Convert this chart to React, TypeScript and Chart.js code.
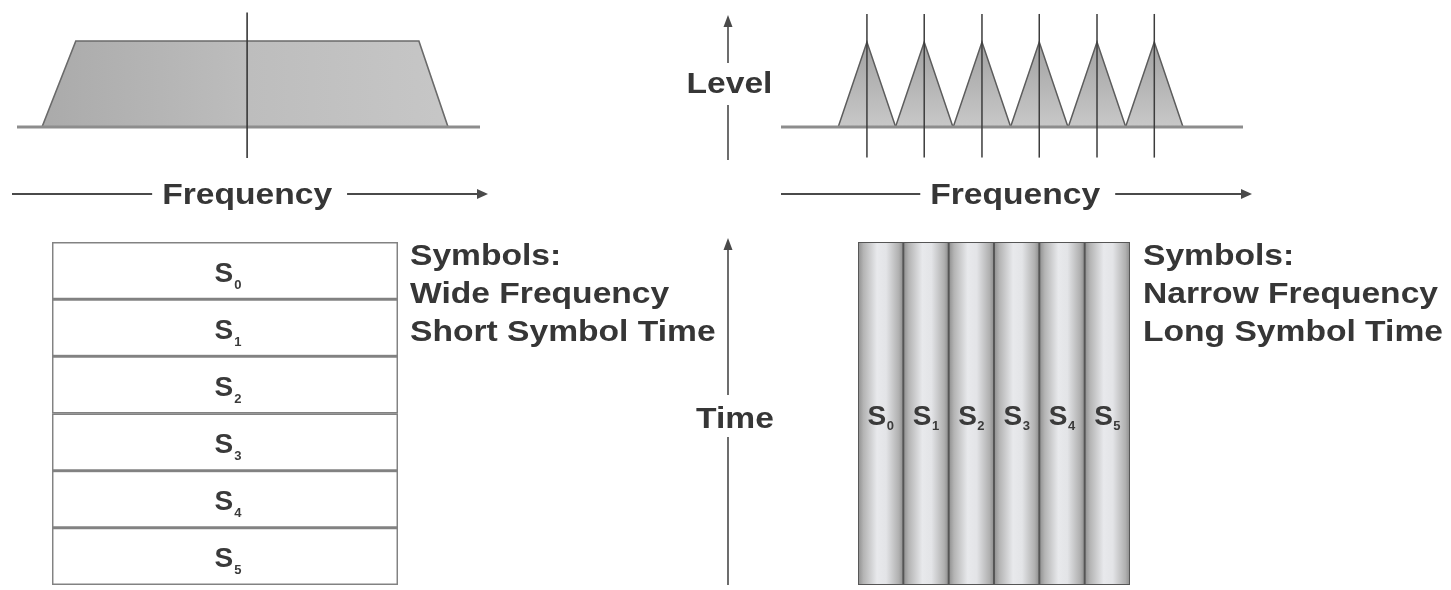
import React, { useEffect, useRef } from 'react';
import { Chart, registerables } from 'chart.js';

Chart.register(...registerables);

// ---------------- data ----------------
const symbolLabels = ['S0', 'S1', 'S2', 'S3', 'S4', 'S5'];
const symbolNames = ['S', 'S', 'S', 'S', 'S', 'S'];
const symbolIndices = ['0', '1', '2', '3', '4', '5'];

// spectrum (frequency 0..100, level 0..1)
const spectrumRange = [0, 100];
const singleCarrierFreq = [5.4, 12.7, 86.8, 93.1];
const singleCarrierLevel = [0, 1, 1, 0];
const singleCarrierCentre = [49.7];
const subcarrierCentres = [18.6, 31.0, 43.5, 55.9, 68.4, 80.8];
const subcarrierHalfBand = [6.22, 6.22, 6.22, 6.22, 6.22, 6.22];
const subcarrierPeak = [1, 1, 1, 1, 1, 1];
const carrierMarkerLevels = [-0.36, 1.33];
const frequencyTitleCentre = [49.7, 50.7];

// symbol occupation (fraction of band / fraction of time)
const wideSymbolSpan = [[0, 1], [0, 1], [0, 1], [0, 1], [0, 1], [0, 1]];
const narrowSymbolSpan = [[0, 1], [0, 1], [0, 1], [0, 1], [0, 1], [0, 1]];

const wideCaption = ['Symbols:', 'Wide Frequency', 'Short Symbol Time'];
const narrowCaption = ['Symbols:', 'Narrow Frequency', 'Long Symbol Time'];
const frequencyTitle = 'Frequency';
const levelTitle = 'Level';
const timeTitle = 'Time';

// ---------------- drawing helpers ----------------
const TEXT = '#363636';
const LINE = '#4a4a4a';
const FONT = '"Liberation Sans", Arial, Helvetica, sans-serif';
const STRETCH = 1.12;

const fin = (...v: number[]) => v.every((n) => Number.isFinite(n));

function measure(ctx: CanvasRenderingContext2D, str: string, size: number, stretch = STRETCH) {
  ctx.save();
  ctx.font = `bold ${size}px ${FONT}`;
  const w = ctx.measureText(str).width * stretch;
  ctx.restore();
  return w;
}

function drawText(ctx: CanvasRenderingContext2D, str: string, x: number, y: number, size: number, align: 'left' | 'center' = 'left', stretch = STRETCH, color = TEXT) {
  const w = measure(ctx, str, size, stretch);
  const sx = align === 'center' ? x - w / 2 : x;
  ctx.save();
  ctx.font = `bold ${size}px ${FONT}`;
  ctx.fillStyle = color;
  ctx.textBaseline = 'alphabetic';
  ctx.textAlign = 'left';
  ctx.translate(sx, y);
  ctx.scale(stretch, 1);
  ctx.fillText(str, 0, 0);
  ctx.restore();
  return w;
}

function arrowHead(ctx: CanvasRenderingContext2D, tx: number, ty: number, dx: number, dy: number, len: number, half: number) {
  ctx.beginPath();
  ctx.moveTo(tx, ty);
  ctx.lineTo(tx - dx * len - dy * half, ty - dy * len + dx * half);
  ctx.lineTo(tx - dx * len + dy * half, ty - dy * len - dx * half);
  ctx.closePath();
  ctx.fill();
}

function frequencyArrow(ctx: CanvasRenderingContext2D, startX: number, tipX: number, y: number, centreX: number) {
  const w = measure(ctx, frequencyTitle, 30);
  const tl = centreX - w / 2;
  const tr = centreX + w / 2;
  ctx.save();
  ctx.strokeStyle = LINE;
  ctx.fillStyle = LINE;
  ctx.lineWidth = 1.8;
  ctx.beginPath();
  ctx.moveTo(startX, y);
  ctx.lineTo(tl - 10, y);
  ctx.moveTo(tr + 15, y);
  ctx.lineTo(tipX - 6, y);
  ctx.stroke();
  arrowHead(ctx, tipX, y, 1, 0, 11, 5);
  ctx.restore();
  drawText(ctx, frequencyTitle, centreX, y + 10, 30, 'center');
}

function verticalArrow(ctx: CanvasRenderingContext2D, x: number, tipY: number, gapTop: number, gapBottom: number, bottomY: number) {
  ctx.save();
  ctx.strokeStyle = LINE;
  ctx.fillStyle = LINE;
  ctx.lineWidth = 1.6;
  ctx.beginPath();
  ctx.moveTo(x, tipY + 6);
  ctx.lineTo(x, gapTop);
  ctx.moveTo(x, gapBottom);
  ctx.lineTo(x, bottomY);
  ctx.stroke();
  arrowHead(ctx, x, tipY, 0, -1, 12, 4.5);
  ctx.restore();
}

function drawSymbol(ctx: CanvasRenderingContext2D, i: number, cx: number, cy: number, size: number, subSize: number, gap: number, baseOff: number, subOff: number) {
  const wS = measure(ctx, symbolNames[i], size, 1);
  const wSub = measure(ctx, symbolIndices[i], subSize, 1);
  const start = cx - (wS + gap + wSub) / 2;
  drawText(ctx, symbolNames[i], start, cy + baseOff, size, 'left', 1, '#3a3a3a');
  drawText(ctx, symbolIndices[i], start + wS + gap, cy + subOff, subSize, 'left', 1, '#3a3a3a');
}

function drawCaption(ctx: CanvasRenderingContext2D, lines: string[], x: number, top: number) {
  const offs = [23, 61, 99];
  lines.forEach((l, i) => drawText(ctx, l, x, top + offs[i], 30));
}

const baseOptions = (padding: any) => ({
  responsive: false,
  animation: false,
  events: [],
  layout: { padding },
  plugins: { legend: { display: false }, tooltip: { enabled: false }, title: { display: false } },
});

function horizontalGradient(c: any, stops: [number, string][], fallback: string) {
  const a = c.chart.chartArea;
  if (!a || !fin(a.left, a.right) || a.right <= a.left) return fallback;
  const g = c.chart.ctx.createLinearGradient(a.left, 0, a.right, 0);
  stops.forEach(([o, col]) => g.addColorStop(o, col));
  return g;
}

function verticalGradient(c: any, stops: [number, string][], fallback: string) {
  const a = c.chart.chartArea;
  if (!a || !fin(a.top, a.bottom) || a.bottom <= a.top) return fallback;
  const g = c.chart.ctx.createLinearGradient(0, a.top, 0, a.bottom);
  stops.forEach(([o, col]) => g.addColorStop(o, col));
  return g;
}

// ---------------- chart builders ----------------
function buildSingleSpectrum(): any {
  return {
    type: 'line',
    data: {
      datasets: [
        {
          data: carrierMarkerLevels.map((y) => ({ x: singleCarrierCentre[0], y })),
          borderColor: '#383838', borderWidth: 1.6, pointRadius: 0, fill: false, clip: false,
        },
        {
          data: spectrumRange.map((x) => ({ x, y: 0 })),
          borderColor: '#8d8d8d', borderWidth: 3, pointRadius: 0, fill: false, clip: false,
        },
        {
          data: singleCarrierFreq.map((x, i) => ({ x, y: singleCarrierLevel[i] })),
          borderColor: '#6a6a6a', borderWidth: 1.6, pointRadius: 0, fill: 'origin', clip: false, tension: 0,
          backgroundColor: (c: any) => horizontalGradient(c, [[0, '#a8a8a8'], [0.5, '#bdbdbd'], [1, '#c8c8c8']], '#b8b8b8'),
        },
      ],
    },
    options: {
      ...baseOptions({ left: 17, right: 40, top: 41, bottom: 93 }),
      scales: {
        x: { type: 'linear', min: 0, max: 100, display: false },
        y: { type: 'linear', min: 0, max: 1, display: false },
      },
    },
    plugins: [
      {
        id: 'freqAxisL',
        afterDraw(chart: any) {
          const a = chart.chartArea;
          frequencyArrow(chart.ctx, a.left - 5, a.right + 8, a.bottom + 67, chart.scales.x.getPixelForValue(frequencyTitleCentre[0]));
        },
      },
    ],
  };
}

function buildMultiSpectrum(): any {
  const markers = subcarrierCentres.map((c) => ({
    data: carrierMarkerLevels.map((y) => ({ x: c, y })),
    borderColor: '#3c3c3c', borderWidth: 1.5, pointRadius: 0, fill: false, clip: false,
  }));
  const triangles = subcarrierCentres.map((c, i) => ({
    data: [
      { x: c - subcarrierHalfBand[i], y: 0 },
      { x: c, y: subcarrierPeak[i] },
      { x: c + subcarrierHalfBand[i], y: 0 },
    ],
    borderColor: '#5c5c5c', borderWidth: 1.5, pointRadius: 0, fill: 'origin', clip: false, tension: 0,
    backgroundColor: (ctx: any) => verticalGradient(ctx, [[0, '#a2a2a2'], [1, '#c8c8c8']], '#b8b8b8'),
  }));
  return {
    type: 'line',
    data: {
      datasets: [
        ...markers,
        { data: spectrumRange.map((x) => ({ x, y: 0 })), borderColor: '#8d8d8d', borderWidth: 3, pointRadius: 0, fill: false, clip: false },
        ...triangles,
      ],
    },
    options: {
      ...baseOptions({ left: 101, right: 37, top: 42, bottom: 93 }),
      scales: {
        x: { type: 'linear', min: 0, max: 100, display: false },
        y: { type: 'linear', min: 0, max: 1, display: false },
      },
    },
    plugins: [
      {
        id: 'freqAxisR',
        afterDraw(chart: any) {
          const a = chart.chartArea;
          const ctx = chart.ctx;
          frequencyArrow(ctx, a.left, a.right + 9, a.bottom + 67, chart.scales.x.getPixelForValue(frequencyTitleCentre[1]));
          const x = a.left - 53;
          verticalArrow(ctx, x, a.bottom - 112, a.bottom - 64, a.bottom - 22, a.bottom + 33);
          drawText(ctx, levelTitle, x + 1.5, a.bottom - 34, 30, 'center');
        },
      },
    ],
  };
}

function buildWideSymbols(): any {
  return {
    type: 'bar',
    data: {
      labels: symbolLabels,
      datasets: [
        {
          data: wideSymbolSpan,
          backgroundColor: '#ffffff', borderColor: '#828282', borderWidth: 1.8, borderSkipped: false,
          barPercentage: 1, categoryPercentage: 1,
        },
      ],
    },
    options: {
      ...baseOptions({ left: 52, right: 322, top: 22, bottom: 5 }),
      indexAxis: 'y',
      scales: {
        x: { type: 'linear', min: 0, max: 1, display: false },
        y: { display: false },
      },
    },
    plugins: [
      {
        id: 'wideLabels',
        afterDatasetsDraw(chart: any) {
          const ctx = chart.ctx;
          const a = chart.chartArea;
          chart.getDatasetMeta(0).data.forEach((el: any, i: number) => {
            const p = el.getCenterPoint();
            drawSymbol(ctx, i, p.x + 3, p.y, 28, 13, 1, 11, 18);
          });
          drawCaption(ctx, wideCaption, a.right + 12, a.top);
        },
      },
    ],
  };
}

function buildNarrowSymbols(): any {
  return {
    type: 'bar',
    data: {
      labels: symbolLabels,
      datasets: [
        {
          data: narrowSymbolSpan,
          borderColor: '#555555', borderWidth: 1.3, borderSkipped: false,
          barPercentage: 1, categoryPercentage: 1,
          backgroundColor: (c: any) => {
            const chart = c.chart;
            const xs = chart.scales && chart.scales.x;
            if (!xs || c.type !== 'data') return '#cccccc';
            const centre = xs.getPixelForValue(c.dataIndex);
            const w = xs.width / symbolLabels.length;
            if (!fin(centre, w) || w <= 0) return '#cccccc';
            const g = chart.ctx.createLinearGradient(centre - w / 2, 0, centre + w / 2, 0);
            g.addColorStop(0, '#8e8e8e');
            g.addColorStop(0.12, '#b4b4b4');
            g.addColorStop(0.42, '#e8e9ec');
            g.addColorStop(0.62, '#e3e4e7');
            g.addColorStop(0.9, '#b0b0b0');
            g.addColorStop(1, '#8c8c8c');
            return g;
          },
        },
      ],
    },
    options: {
      ...baseOptions({ left: 168, right: 321, top: 22, bottom: 5 }),
      scales: {
        x: { display: false },
        y: { type: 'linear', min: 0, max: 1, display: false },
      },
    },
    plugins: [
      {
        id: 'narrowLabels',
        afterDatasetsDraw(chart: any) {
          const ctx = chart.ctx;
          const a = chart.chartArea;
          chart.getDatasetMeta(0).data.forEach((el: any, i: number) => {
            const p = el.getCenterPoint();
            drawSymbol(ctx, i, p.x, p.y, 28, 13, 0.5, 11.5, 16.5);
          });
          drawCaption(ctx, narrowCaption, a.right + 13, a.top);
          const x = a.left - 130;
          verticalArrow(ctx, x, a.top - 4, a.top + 153, a.top + 195, a.bottom);
          drawText(ctx, timeTitle, a.left - 123, a.top + 186, 30, 'center');
        },
      },
    ],
  };
}

// ---------------- components ----------------
function ChartPanel({ left, top, width, height, build }: { left: number; top: number; width: number; height: number; build: () => any }) {
  const ref = useRef<HTMLCanvasElement>(null);
  useEffect(() => {
    const chart = new Chart(ref.current as HTMLCanvasElement, build());
    return () => chart.destroy();
  }, [build]);
  return (
    <canvas
      ref={ref}
      width={width}
      height={height}
      style={{ position: 'absolute', left, top, width, height, display: 'block' }}
    />
  );
}

export default function App() {
  return (
    <div style={{ position: 'fixed', left: 0, top: 0, width: 1451, height: 590, background: '#ffffff', overflow: 'hidden' }}>
      <ChartPanel left={0} top={0} width={520} height={220} build={buildSingleSpectrum} />
      <ChartPanel left={680} top={0} width={600} height={220} build={buildMultiSpectrum} />
      <ChartPanel left={0} top={220} width={720} height={370} build={buildWideSymbols} />
      <ChartPanel left={690} top={220} width={761} height={370} build={buildNarrowSymbols} />
    </div>
  );
}
